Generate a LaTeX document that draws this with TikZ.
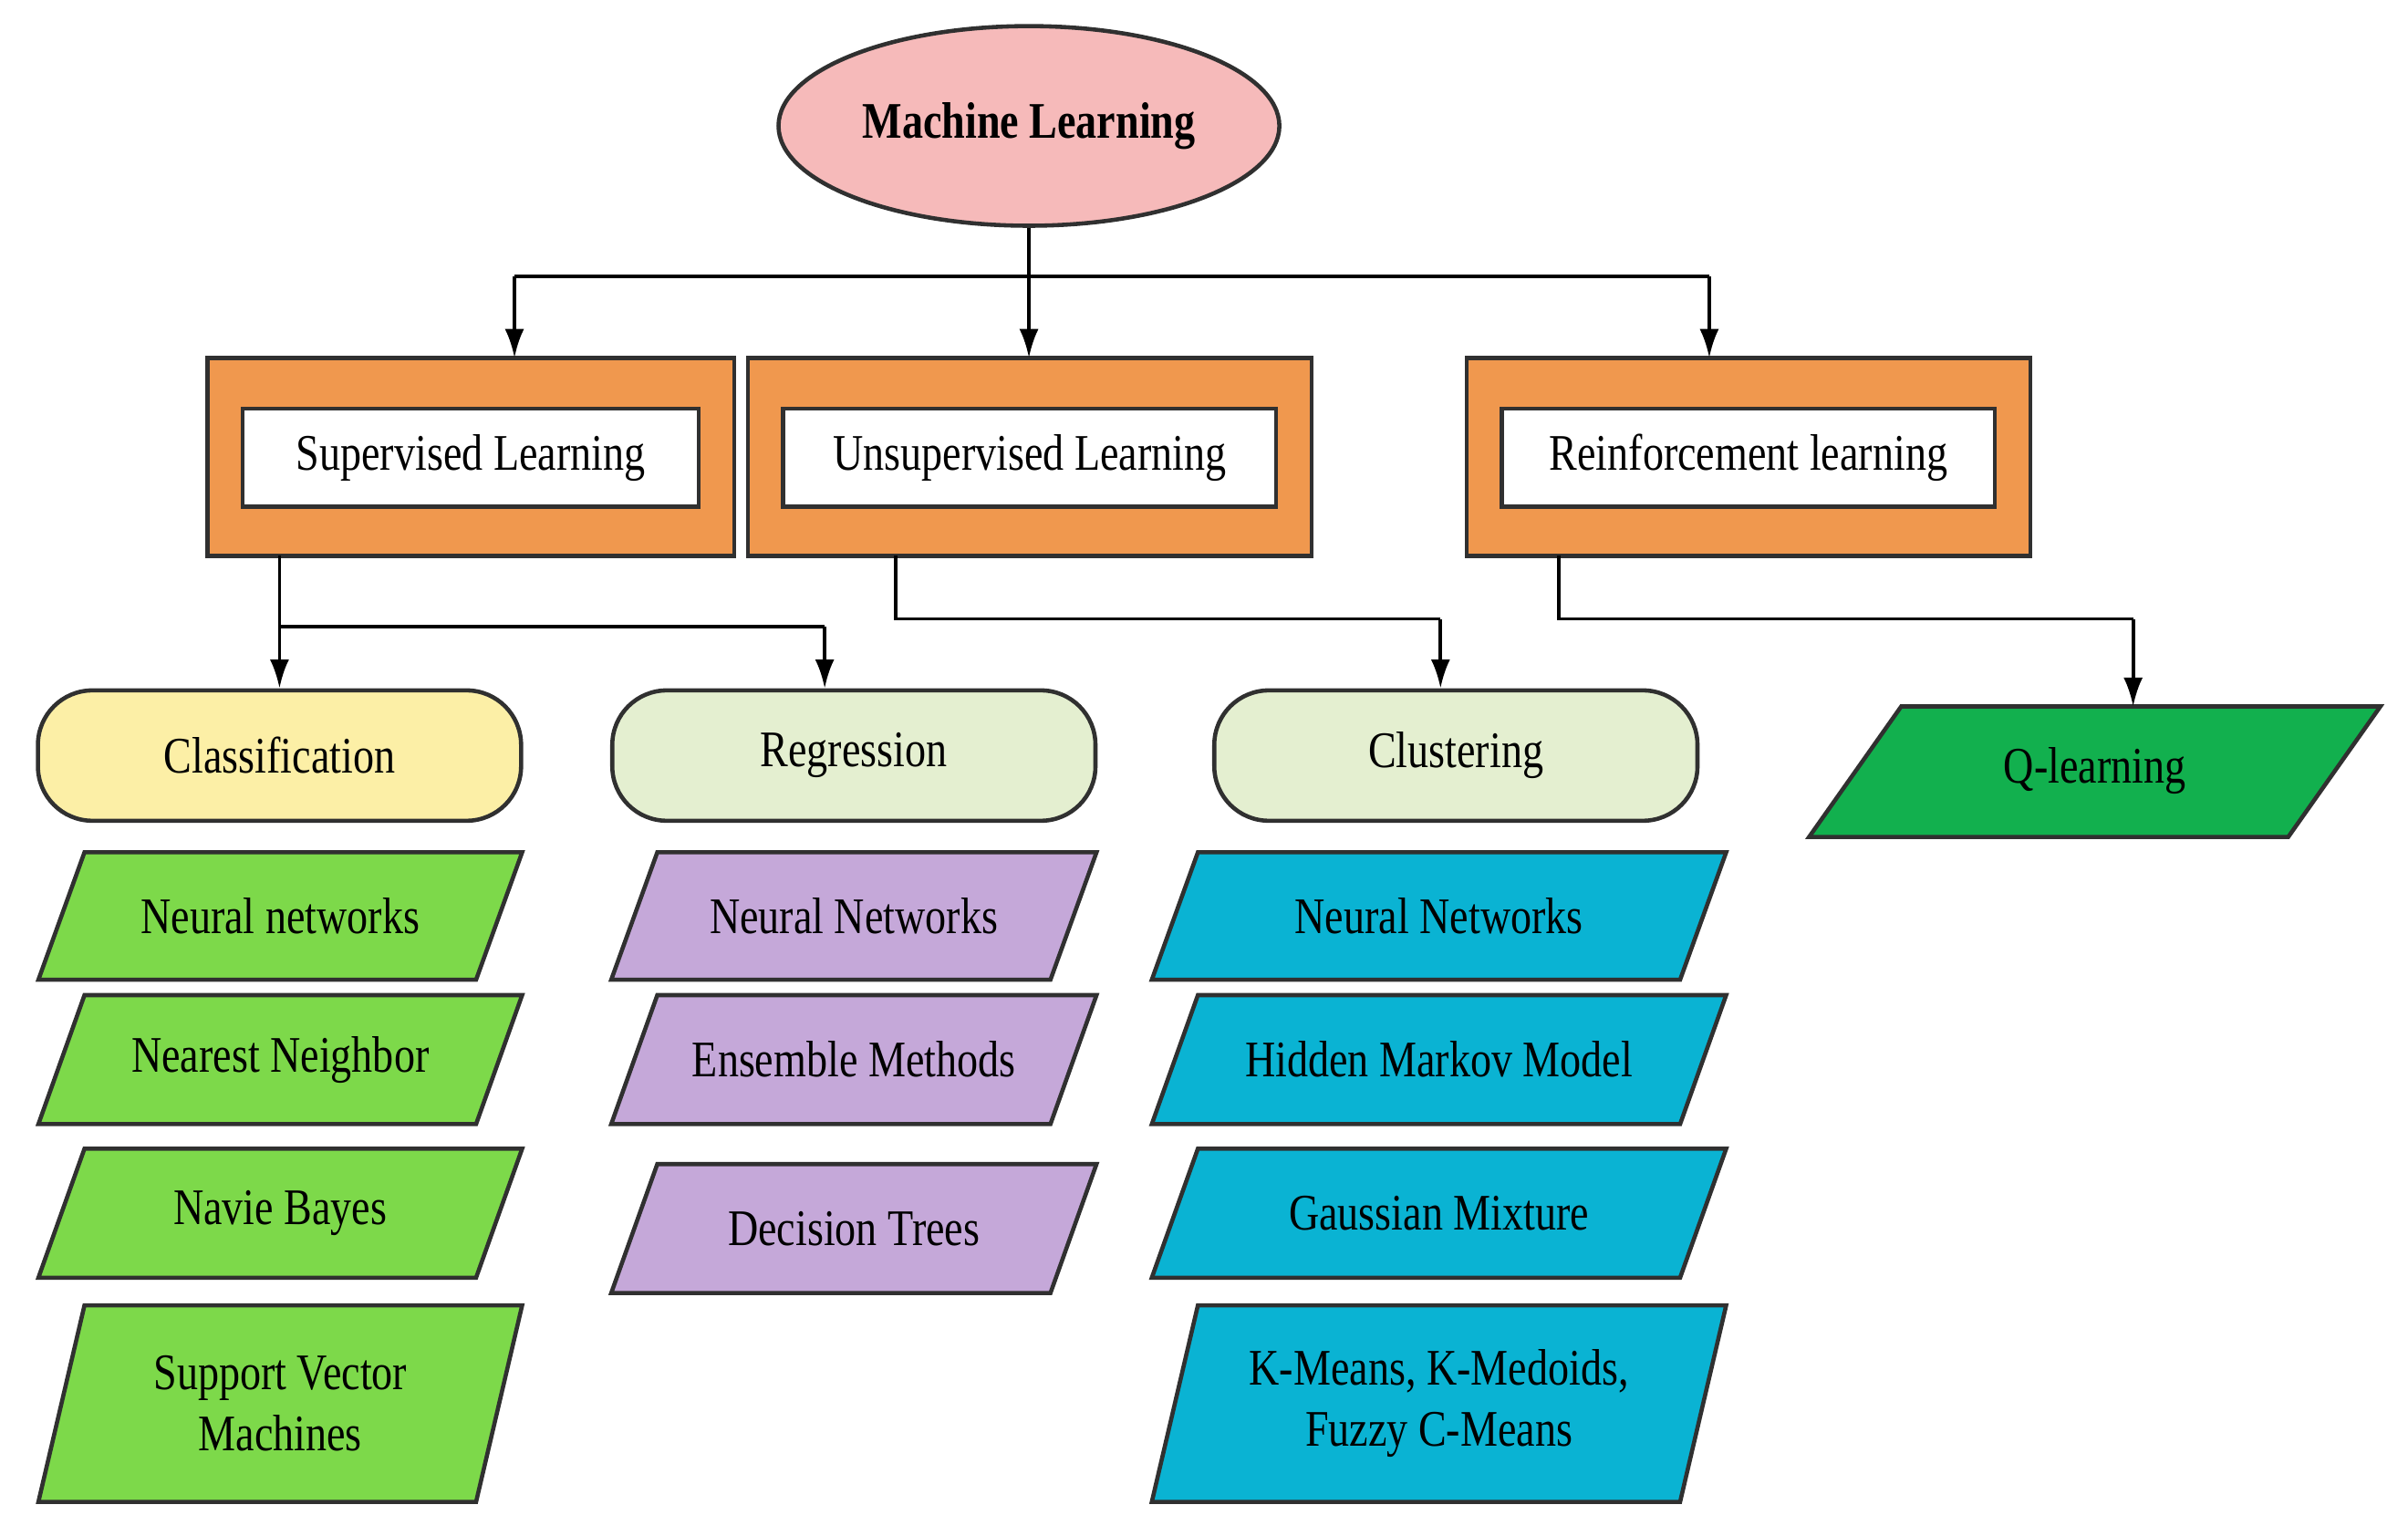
\documentclass[tikz,border=0pt]{standalone}
\usepackage{fontspec}
\setmainfont{Liberation Serif}[FakeStretch=0.82]
\usetikzlibrary{shapes.geometric,arrows.meta}
\definecolor{pinkf}{HTML}{F6BABA}
\definecolor{orf}{HTML}{F0984E}
\definecolor{yelf}{HTML}{FCEFA6}
\definecolor{pgf}{HTML}{E4EFD0}
\definecolor{grf}{HTML}{7DD94A}
\definecolor{puf}{HTML}{C5A8D9}
\definecolor{cyf}{HTML}{0AB3D3}
\definecolor{qf}{HTML}{12B04E}
\definecolor{edge}{HTML}{303030}
\tikzset{
 txt/.style={font=\fontsize{16}{19}\selectfont, align=center, text=black},
 conn/.style={draw=black, line width=1.1pt, -{Latex[length=9pt,width=6pt]}},
 line/.style={draw=black, line width=1.1pt},
 shp/.style={draw=edge, line width=1.3pt},
 pill/.style={rounded corners=17pt, shp, minimum width=5.3cm, minimum height=1.43cm, txt},
}
% \para{name}{x1}{x2}{y1}{y2}{color}{text}
\newcommand{\para}[7]{%
 \fill[#6, shp] (#2,#5) -- (#2+30,#4) -- (#3,#4) -- (#3-30,#5) -- cycle;
 \node[txt] (#1) at ({(#2+#3)/2},{(#4+#5)/2}) {#7};}
\newcommand{\obox}[4]{% name x1 x2 text
 \fill[orf, shp] (#2,233) rectangle (#3,362);
 \fill[white, shp] (#2+23,266) rectangle (#3-23,330);
 \node[txt] (#1) at ({(#2+#3)/2},298) {#4};}
\begin{document}
\begin{tikzpicture}[x=0.01684cm, y=-0.01684cm]
\useasboundingbox (0,0) rectangle (1568,1000);
\node[ellipse, fill=pinkf, shp, minimum width=5.36cm, minimum height=2.19cm, txt, font=\fontsize{16}{19}\selectfont\bfseries] (ml) at (670,82) {Machine Learning};
\obox{sup}{135}{478}{Supervised Learning}
\obox{uns}{487}{854}{Unsupervised Learning}
\obox{rei}{955}{1322}{Reinforcement learning}
\coordinate (j1) at (335,180); \coordinate (j2) at (1113,180);
\coordinate (st) at (335,233); \coordinate (ut) at (670,233); \coordinate (rt) at (1113,233);
\draw[line] (j1) -- (j2);
\draw[conn] (ml.south) -- (ut);
\draw[conn] (j1) -- (st);
\draw[conn] (j2) -- (rt);
% second level
\node[pill, fill=yelf] (cla) at (182,492) {Classification};
\node[pill, fill=pgf] (reg) at (556,492) {Regression};
\node[pill, fill=pgf] (clu) at (948,492) {Clustering};
\fill[qf, shp] (1178,545) -- (1238,460) -- (1550,460) -- (1490,545) -- cycle;
\node[txt] (q) at (1364,502) {Q-learning};
\coordinate (s1) at (182,362); \coordinate (s2) at (182,408); \coordinate (s3) at (537,408);
\coordinate (u1) at (583,362); \coordinate (u2) at (583,403); \coordinate (u3) at (938,403);
\coordinate (r1) at (1015,362); \coordinate (r2) at (1015,403); \coordinate (r3) at (1389,403);
\draw[conn] (s1) -- (s1|-cla.north);
\draw[line] (s2) -- (s3);
\draw[conn] (s3) -- (s3|-reg.north);
\draw[line] (u1) -- (u2) -- (u3);
\draw[conn] (u3) -- (u3|-clu.north);
\draw[line] (r1) -- (r2) -- (r3);
\draw[conn] (r3) -- (1389,460);
% items
\para{c1}{25}{340}{555}{638}{grf}{Neural networks}
\para{c2}{25}{340}{648}{732}{grf}{Nearest Neighbor}
\para{c3}{25}{340}{748}{832}{grf}{Navie Bayes}
\para{c4}{25}{340}{850}{978}{grf}{Support Vector\\Machines}
\para{r1n}{398}{714}{555}{638}{puf}{Neural Networks}
\para{r2n}{398}{714}{648}{732}{puf}{Ensemble Methods}
\para{r3n}{398}{714}{758}{842}{puf}{Decision Trees}
\para{k1}{750}{1124}{555}{638}{cyf}{Neural Networks}
\para{k2}{750}{1124}{648}{732}{cyf}{Hidden Markov Model}
\para{k3}{750}{1124}{748}{832}{cyf}{Gaussian Mixture}
\para{k4}{750}{1124}{850}{978}{cyf}{K-Means, K-Medoids,\\Fuzzy C-Means}
\end{tikzpicture}
\end{document}
